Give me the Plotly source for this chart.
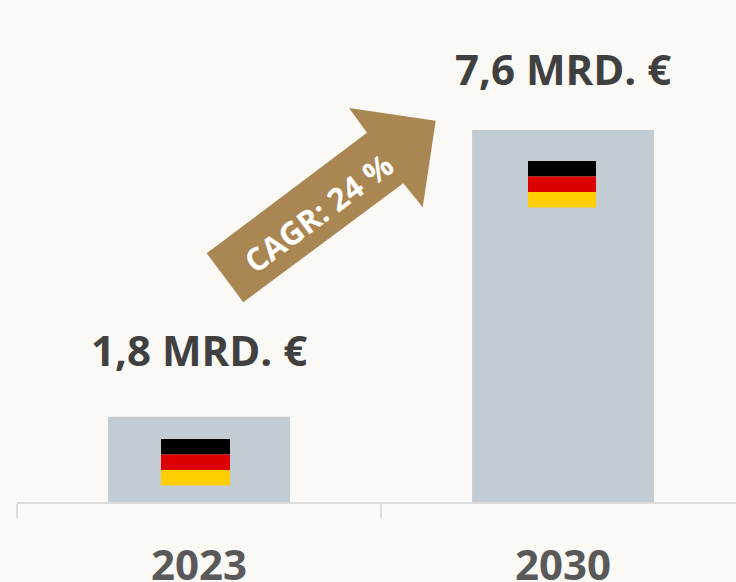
import plotly.graph_objects as go

years = ["2023", "2030"]
values = [1.74, 7.6]
value_labels = ["1,8 MRD. €", "7,6 MRD. €"]
arrow_label = "CAGR: 24 %"
FONT = "Open Sans"
W, H, L, B = 736, 582, 17, 80
PW, PH = W - L, H - B
LABEL_SHIFT = [37, 31]

def px(x):
    return (x - L) / PW

def py(y):
    return (H - B - y) / PH

fig = go.Figure(go.Bar(
    x=years, y=values, width=0.5, marker_color="#C3CCD2", marker_line_width=0,
    hoverinfo="skip",
))

shapes = []
# flags
stripes = [("#000000", 0, 1 / 3), ("#DD0000", 1 / 3, 2 / 3), ("#FFCE00", 2 / 3, 1)]
for x0, x1, y0, y1 in [(161, 230, 439, 485.5), (528, 596, 161, 207.5)]:
    for col, a, b in stripes:
        shapes.append(dict(type="rect", xref="paper", yref="paper", layer="above",
                           x0=px(x0), x1=px(x1),
                           y0=py(y0 + (y1 - y0) * a), y1=py(y0 + (y1 - y0) * b),
                           fillcolor=col, line_width=0))
# arrow
arrow = [(206.7, 253.3), (243.3, 302.3), (403.3, 183.3), (422.7, 207.3),
         (435.7, 120.7), (349, 108), (367, 132.7)]
path = "M " + " L ".join(f"{px(x):.5f},{py(y):.5f}" for x, y in arrow) + " Z"
shapes.append(dict(type="path", xref="paper", yref="paper", layer="above", path=path,
                   fillcolor="#AA8752", line_width=0))

annotations = [
    dict(xref="x", x=i, yref="y", y=v, text=f"<b>{t}</b>", showarrow=False, yanchor="bottom",
         yshift=LABEL_SHIFT[i], font=dict(family=FONT, size=42, color="#404040"))
    for i, (v, t) in enumerate(zip(values, value_labels))
]
annotations.append(dict(xref="paper", yref="paper", x=px(318), y=py(213),
                        text=f"<b>{arrow_label}</b>", textangle=-36.6, showarrow=False,
                        font=dict(family=FONT, size=31.5, color="#FFFFFF")))

fig.update_layout(
    width=W, height=H, autosize=False,
    margin=dict(l=L, r=0, t=0, b=B, pad=0, autoexpand=False),
    paper_bgcolor="#FBF9F6", plot_bgcolor="#FBF9F6",
    showlegend=False, shapes=shapes, annotations=annotations,
    xaxis=dict(type="category", range=[-0.5, 1.475], tickson="boundaries", ticks="outside",
               automargin=False,
               ticklen=14, tickwidth=2, tickcolor="#DCDCDC", showline=True, linecolor="#DCDCDC",
               linewidth=2, showgrid=False, zeroline=False, ticklabelstandoff=26,
               tickfont=dict(family=FONT, size=42, color="#595959", weight="bold")),
    yaxis=dict(range=[0, 10.255], visible=False, showgrid=False, zeroline=False),
)
fig.write_html("out.html", config={"displayModeBar": False},
               post_script="document.body.style.margin='0';document.body.style.overflow='hidden';document.documentElement.style.background='#FBF9F6';")
